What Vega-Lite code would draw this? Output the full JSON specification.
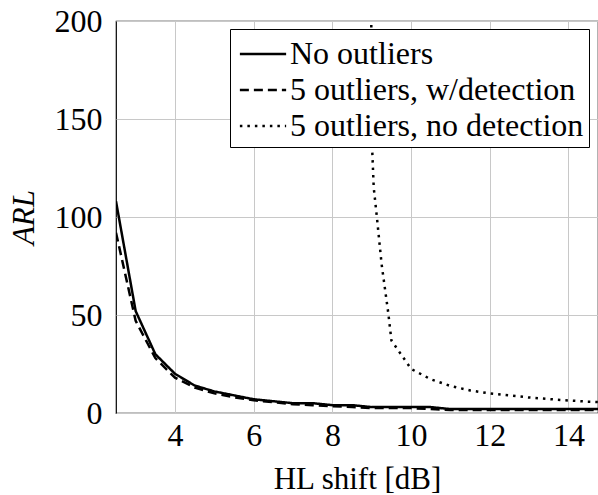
{
  "$schema": "https://vega.github.io/schema/vega-lite/v6.json",
  "autosize": {"type": "none"},
  "padding": {"left": 116, "top": 21, "right": 0, "bottom": 82},
  "width": 482,
  "height": 392,
  "background": "white",
  "config": {
    "view": {"stroke": "black", "strokeWidth": 1.2},
    "font": "Liberation Serif",
    "axis": {
      "labelFont": "Liberation Serif",
      "titleFont": "Liberation Serif",
      "labelFontSize": 32,
      "titleFontSize": 31,
      "labelColor": "black",
      "titleColor": "black",
      "titleFontWeight": "normal",
      "domain": false,
      "ticks": false,
      "gridColor": "#c8c8c8",
      "gridWidth": 1,
      "gridOpacity": 1
    }
  },
  "data": {
    "values": [
      {"s": "No outliers", "x": 2.5, "y": 108},
      {"s": "No outliers", "x": 3, "y": 52},
      {"s": "No outliers", "x": 3.5, "y": 30},
      {"s": "No outliers", "x": 4, "y": 20},
      {"s": "No outliers", "x": 4.5, "y": 14},
      {"s": "No outliers", "x": 5, "y": 11},
      {"s": "No outliers", "x": 5.5, "y": 9},
      {"s": "No outliers", "x": 6, "y": 7},
      {"s": "No outliers", "x": 6.5, "y": 6},
      {"s": "No outliers", "x": 7, "y": 5},
      {"s": "No outliers", "x": 7.5, "y": 5},
      {"s": "No outliers", "x": 8, "y": 4},
      {"s": "No outliers", "x": 8.5, "y": 4},
      {"s": "No outliers", "x": 9, "y": 3},
      {"s": "No outliers", "x": 9.5, "y": 3},
      {"s": "No outliers", "x": 10, "y": 3},
      {"s": "No outliers", "x": 10.5, "y": 3},
      {"s": "No outliers", "x": 11, "y": 2},
      {"s": "No outliers", "x": 11.5, "y": 2},
      {"s": "No outliers", "x": 12, "y": 2},
      {"s": "No outliers", "x": 12.5, "y": 2},
      {"s": "No outliers", "x": 13, "y": 2},
      {"s": "No outliers", "x": 13.5, "y": 2},
      {"s": "No outliers", "x": 14, "y": 2},
      {"s": "No outliers", "x": 14.5, "y": 2},
      {"s": "No outliers", "x": 15, "y": 2},
      {"s": "5 outliers, w/detection", "x": 2.5, "y": 92},
      {"s": "5 outliers, w/detection", "x": 3, "y": 47},
      {"s": "5 outliers, w/detection", "x": 3.5, "y": 28},
      {"s": "5 outliers, w/detection", "x": 4, "y": 18},
      {"s": "5 outliers, w/detection", "x": 4.5, "y": 13},
      {"s": "5 outliers, w/detection", "x": 5, "y": 10},
      {"s": "5 outliers, w/detection", "x": 5.5, "y": 8},
      {"s": "5 outliers, w/detection", "x": 6, "y": 6.5},
      {"s": "5 outliers, w/detection", "x": 6.5, "y": 5.5},
      {"s": "5 outliers, w/detection", "x": 7, "y": 4.5},
      {"s": "5 outliers, w/detection", "x": 7.5, "y": 4},
      {"s": "5 outliers, w/detection", "x": 8, "y": 3.5},
      {"s": "5 outliers, w/detection", "x": 8.5, "y": 3},
      {"s": "5 outliers, w/detection", "x": 9, "y": 2.5},
      {"s": "5 outliers, w/detection", "x": 9.5, "y": 2.5},
      {"s": "5 outliers, w/detection", "x": 10, "y": 2.5},
      {"s": "5 outliers, w/detection", "x": 10.5, "y": 2},
      {"s": "5 outliers, w/detection", "x": 11, "y": 1.5},
      {"s": "5 outliers, w/detection", "x": 11.5, "y": 1.5},
      {"s": "5 outliers, w/detection", "x": 12, "y": 1.5},
      {"s": "5 outliers, w/detection", "x": 12.5, "y": 1.5},
      {"s": "5 outliers, w/detection", "x": 13, "y": 1.5},
      {"s": "5 outliers, w/detection", "x": 13.5, "y": 1.5},
      {"s": "5 outliers, w/detection", "x": 14, "y": 1.5},
      {"s": "5 outliers, w/detection", "x": 14.5, "y": 1.5},
      {"s": "5 outliers, w/detection", "x": 15, "y": 1.5},
      {"s": "5 outliers, no detection", "x": 8.98, "y": 240},
      {"s": "5 outliers, no detection", "x": 9.0, "y": 140},
      {"s": "5 outliers, no detection", "x": 9.05, "y": 115},
      {"s": "5 outliers, no detection", "x": 9.13, "y": 100},
      {"s": "5 outliers, no detection", "x": 9.25, "y": 76},
      {"s": "5 outliers, no detection", "x": 9.42, "y": 51},
      {"s": "5 outliers, no detection", "x": 9.5, "y": 37},
      {"s": "5 outliers, no detection", "x": 10, "y": 22.5},
      {"s": "5 outliers, no detection", "x": 10.5, "y": 17.2},
      {"s": "5 outliers, no detection", "x": 11, "y": 13.8},
      {"s": "5 outliers, no detection", "x": 11.5, "y": 11.5},
      {"s": "5 outliers, no detection", "x": 12, "y": 10},
      {"s": "5 outliers, no detection", "x": 12.5, "y": 9},
      {"s": "5 outliers, no detection", "x": 13, "y": 7.9},
      {"s": "5 outliers, no detection", "x": 13.5, "y": 7.1},
      {"s": "5 outliers, no detection", "x": 14, "y": 6.4},
      {"s": "5 outliers, no detection", "x": 14.5, "y": 5.8},
      {"s": "5 outliers, no detection", "x": 15, "y": 5.4}
    ]
  },
  "mark": {"type": "line", "stroke": "black", "strokeWidth": 2.5, "clip": true},
  "encoding": {
    "x": {
      "field": "x", "type": "quantitative",
      "scale": {"domain": [2.5, 14.75], "nice": false, "zero": false},
      "axis": {"values": [4, 6, 8, 10, 12, 14], "title": "HL shift [dB]", "labelPadding": 7, "titlePadding": 13, "grid": true}
    },
    "y": {
      "field": "y", "type": "quantitative",
      "scale": {"domain": [0, 200], "nice": false},
      "axis": {"values": [0, 50, 100, 150, 200], "title": "ARL", "titleFontStyle": "italic", "labelPadding": 14, "titlePadding": 14, "grid": true}
    },
    "strokeDash": {
      "field": "s", "type": "nominal",
      "scale": {
        "domain": ["No outliers", "5 outliers, w/detection", "5 outliers, no detection"],
        "range": [[1, 0], [9, 5], [2.5, 5]]
      },
      "legend": {
        "title": null,
        "orient": "none",
        "legendX": 114,
        "legendY": 8,
        "strokeColor": "black",
        "fillColor": "white",
        "padding": 5,
        "cornerRadius": 0,
        "symbolType": "M-1.25,0H1.25",
        "symbolSize": 1369,
        "symbolOffset": 8,
        "symbolStrokeWidth": 2.5,
        "symbolStrokeColor": "black",
        "symbolFillColor": "transparent",
        "labelFont": "Liberation Serif",
        "labelFontSize": 32,
        "labelColor": "black",
        "labelLimit": 500,
        "labelOffset": 7,
        "rowPadding": 0
      }
    }
  }
}
